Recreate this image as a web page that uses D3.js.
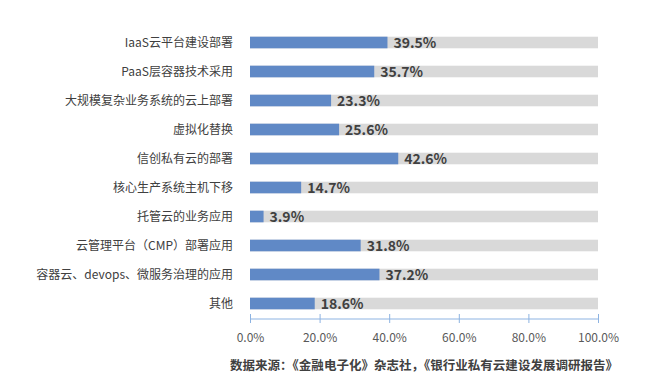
<!DOCTYPE html>
<html><head><meta charset="utf-8">
<script src="https://cdn.jsdelivr.net/npm/d3@7"></script>
<style>body{margin:0;background:#fff}svg{display:block}</style>
</head><body>
<script>
const categories = ["IaaS云平台建设部署","PaaS层容器技术采用","大规模复杂业务系统的云上部署","虚拟化替换","信创私有云的部署","核心生产系统主机下移","托管云的业务应用","云管理平台（CMP）部署应用","容器云、devops、微服务治理的应用","其他"];
const values = [39.5,35.7,23.3,25.6,42.6,14.7,3.9,31.8,37.2,18.6];
const tickValues = [0,20,40,60,80,100];
const source = "数据来源：《金融电子化》杂志社，《银行业私有云建设发展调研报告》";

const W=660,H=384;
const svg=d3.select("body").append("svg").attr("width",W).attr("height",H);
const font="'Noto Sans CJK SC','Noto Sans',sans-serif";
const x=d3.scaleLinear().domain([0,100]).range([250,598]);
const y=d3.scaleBand().domain(categories).range([28,318]).paddingInner(0.6).paddingOuter(0.3);

svg.append("g").selectAll("rect").data(categories).join("rect")
  .attr("x",x(0)).attr("y",d=>y(d)).attr("width",x(100)-x(0)).attr("height",y.bandwidth()).attr("fill","#d9d9d9");
svg.append("g").selectAll("rect").data(values).join("rect")
  .attr("x",x(0)).attr("y",(d,i)=>y(categories[i])).attr("width",d=>x(d)-x(0)).attr("height",y.bandwidth()).attr("fill","#6089c6");
svg.append("g").selectAll("text").data(values).join("text")
  .attr("x",d=>x(d)+6).attr("y",(d,i)=>y(categories[i])+y.bandwidth()/2).attr("dy","0.36em")
  .attr("font-family",font).attr("font-size",14).attr("font-weight","bold").attr("fill","#404040")
  .text(d=>d.toFixed(1)+"%");
svg.append("g").selectAll("text").data(categories).join("text")
  .attr("x",233).attr("y",d=>y(d)+y.bandwidth()/2).attr("dy","0.36em").attr("text-anchor","end")
  .attr("font-family",font).attr("font-size",12).attr("fill","#404040").text(d=>d);

const ax=svg.append("g").attr("transform","translate(0,319)")
  .call(d3.axisBottom(x).tickValues(tickValues).tickFormat(d=>d.toFixed(1)+"%").tickSize(4).tickPadding(10));
ax.select(".domain").attr("stroke","#8db3e2").attr("d","M250,0H598");
ax.selectAll(".tick line").attr("stroke","#8db3e2").attr("y1",-5).attr("y2",4);
ax.selectAll(".tick text").attr("font-family",font).attr("font-size",12).attr("fill","#595959");

svg.append("text").attr("x",230).attr("y",369.5)
  .attr("textLength",388).attr("lengthAdjust","spacing")
  .attr("font-family",font).attr("font-size",12.5).attr("font-weight","bold").attr("fill","#404040").text(source);
</script>
</body></html>
